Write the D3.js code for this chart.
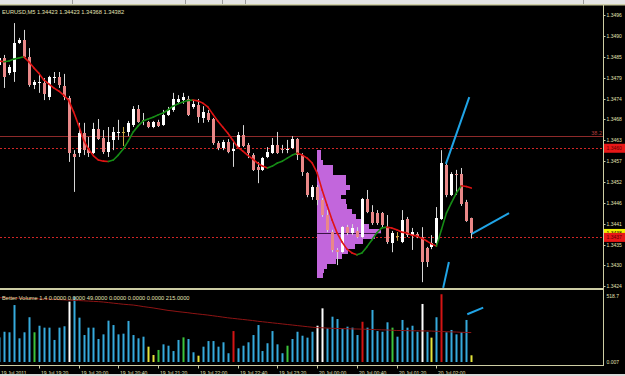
<!DOCTYPE html>
<html>
<head>
<meta charset="utf-8">
<title>EURUSD,M5</title>
<script src="https://cdn.jsdelivr.net/npm/d3@7"></script>
<style>
    html, body { margin: 0; padding: 0; background: #000; overflow: hidden; }
    svg { display: block; }
    text { font-family: "Liberation Sans", Arial, sans-serif; }
</style>
</head>
<body>
<svg id="chart" width="625" height="376"></svg>
<script>
// EURUSD M5, 19-20 Jul 2011. bar 0 is the one cut by the left edge
const candleOpen = [
    1.34826, 1.34844, 1.34804, 1.34807, 1.34884, 1.34891, 1.34847, 1.34773, 1.34778, 1.34778,
    1.34741, 1.34791, 1.34794, 1.34770, 1.34739, 1.34591, 1.34593, 1.34646, 1.34604, 1.34593,
    1.34657, 1.34633, 1.34596, 1.34628, 1.34646, 1.34649, 1.34649, 1.34667, 1.34710, 1.34681,
    1.34675, 1.34662, 1.34675, 1.34667, 1.34694, 1.34707, 1.34728, 1.34733, 1.34736, 1.34715,
    1.34720, 1.34686, 1.34699, 1.34683, 1.34620, 1.34607, 1.34622, 1.34599, 1.34609, 1.34641,
    1.34615, 1.34588, 1.34557, 1.34549, 1.34583, 1.34593, 1.34615, 1.34604, 1.34601, 1.34607,
    1.34630, 1.34588, 1.34541, 1.34477, 1.34504, 1.34470, 1.34430, 1.34385, 1.34338, 1.34332,
    1.34398, 1.34383, 1.34388, 1.34372, 1.34472, 1.34438, 1.34435, 1.34435, 1.34398, 1.34356,
    1.34375, 1.34359, 1.34419, 1.34377, 1.34380, 1.34372, 1.34343, 1.34346, 1.34356, 1.34419,
    1.34562, 1.34483, 1.34538, 1.34538, 1.34464, 1.34423
];
const candleHigh = [
    1.34852, 1.34852, 1.34826, 1.34936, 1.34897, 1.34918, 1.34870, 1.34786, 1.34799, 1.34791,
    1.34797, 1.34807, 1.34807, 1.34802, 1.34744, 1.34601, 1.34673, 1.34673, 1.34636, 1.34673,
    1.34683, 1.34654, 1.34662, 1.34662, 1.34681, 1.34662, 1.34678, 1.34717, 1.34720, 1.34699,
    1.34678, 1.34678, 1.34681, 1.34707, 1.34715, 1.34752, 1.34746, 1.34752, 1.34744, 1.34733,
    1.34736, 1.34717, 1.34707, 1.34686, 1.34625, 1.34628, 1.34630, 1.34622, 1.34649, 1.34667,
    1.34620, 1.34593, 1.34570, 1.34583, 1.34609, 1.34633, 1.34649, 1.34615, 1.34628, 1.34638,
    1.34633, 1.34593, 1.34543, 1.34509, 1.34509, 1.34475, 1.34443, 1.34391, 1.34343, 1.34401,
    1.34404, 1.34406, 1.34398, 1.34475, 1.34496, 1.34456, 1.34443, 1.34438, 1.34430, 1.34388,
    1.34385, 1.34443, 1.34425, 1.34396, 1.34385, 1.34398, 1.34346, 1.34377, 1.34451, 1.34601,
    1.34567, 1.34543, 1.34549, 1.34554, 1.34470, 1.34423
];
const candleLow = [
    1.34818, 1.34765, 1.34799, 1.34781, 1.34881, 1.34844, 1.34768, 1.34762, 1.34752, 1.34733,
    1.34733, 1.34778, 1.34765, 1.34733, 1.34570, 1.34491, 1.34583, 1.34588, 1.34583, 1.34591,
    1.34628, 1.34591, 1.34583, 1.34601, 1.34628, 1.34612, 1.34638, 1.34662, 1.34673, 1.34667,
    1.34659, 1.34659, 1.34662, 1.34665, 1.34691, 1.34702, 1.34723, 1.34723, 1.34691, 1.34710,
    1.34673, 1.34673, 1.34675, 1.34615, 1.34601, 1.34601, 1.34593, 1.34557, 1.34607, 1.34609,
    1.34580, 1.34546, 1.34514, 1.34546, 1.34580, 1.34591, 1.34591, 1.34593, 1.34593, 1.34604,
    1.34575, 1.34533, 1.34477, 1.34470, 1.34456, 1.34425, 1.34385, 1.34332, 1.34298, 1.34330,
    1.34377, 1.34377, 1.34369, 1.34369, 1.34435, 1.34404, 1.34404, 1.34398, 1.34354, 1.34332,
    1.34362, 1.34356, 1.34372, 1.34338, 1.34369, 1.34253, 1.34293, 1.34340, 1.34346, 1.34417,
    1.34477, 1.34480, 1.34483, 1.34454, 1.34412, 1.34368
];
const candleClose = [
    1.34844, 1.34794, 1.34820, 1.34884, 1.34891, 1.34847, 1.34773, 1.34781, 1.34781, 1.34749,
    1.34794, 1.34794, 1.34773, 1.34741, 1.34593, 1.34583, 1.34646, 1.34601, 1.34593, 1.34657,
    1.34630, 1.34596, 1.34622, 1.34649, 1.34649, 1.34649, 1.34673, 1.34710, 1.34675, 1.34678,
    1.34662, 1.34675, 1.34665, 1.34694, 1.34707, 1.34736, 1.34736, 1.34741, 1.34694, 1.34723,
    1.34688, 1.34702, 1.34681, 1.34620, 1.34607, 1.34622, 1.34596, 1.34604, 1.34641, 1.34612,
    1.34593, 1.34549, 1.34549, 1.34580, 1.34596, 1.34615, 1.34593, 1.34601, 1.34604, 1.34630,
    1.34588, 1.34543, 1.34483, 1.34504, 1.34470, 1.34430, 1.34391, 1.34338, 1.34332, 1.34398,
    1.34383, 1.34396, 1.34372, 1.34472, 1.34438, 1.34409, 1.34409, 1.34404, 1.34359, 1.34383,
    1.34375, 1.34417, 1.34377, 1.34385, 1.34372, 1.34306, 1.34306, 1.34356, 1.34422, 1.34567,
    1.34483, 1.34538, 1.34535, 1.34459, 1.34414, 1.34382
];
// two-colour moving average on the price
const maLine = [
    1.34836, 1.34834, 1.34836, 1.34841, 1.34844, 1.34847, 1.34834, 1.34818, 1.34804, 1.34786,
    1.34776, 1.34765, 1.34757, 1.34746, 1.34733, 1.34702, 1.34667, 1.34628, 1.34604, 1.34586,
    1.34575, 1.34572, 1.34571, 1.34575, 1.34588, 1.34604, 1.34625, 1.34649, 1.34665, 1.34678,
    1.34683, 1.34688, 1.34694, 1.34699, 1.34707, 1.34717, 1.34723, 1.34728, 1.34732, 1.34733,
    1.34731, 1.34725, 1.34715, 1.34696, 1.34678, 1.34662, 1.34646, 1.34628, 1.34609, 1.34599,
    1.34588, 1.34578, 1.34567, 1.34559, 1.34554, 1.34559, 1.34567, 1.34572, 1.34580, 1.34588,
    1.34593, 1.34588, 1.34580, 1.34567, 1.34541, 1.34496, 1.34456, 1.34417, 1.34383, 1.34359,
    1.34340, 1.34330, 1.34325, 1.34330, 1.34346, 1.34364, 1.34383, 1.34396, 1.34398, 1.34396,
    1.34391, 1.34385, 1.34383, 1.34377, 1.34375, 1.34369, 1.34362, 1.34354, 1.34348, 1.34391,
    1.34435, 1.34462, 1.34488, 1.34507, 1.34505, 1.34501
];
const volumes = [
    180, 221, 217, 416, 173, 217, 327, 217, 265, 251,
    251, 161, 251, 261, 441, 477, 324, 197, 251, 251,
    168, 202, 302, 270, 202, 207, 300, 197, 173, 185,
    112, 51, 88, 129, 119, 80, 161, 180, 168, 71,
    46, 112, 153, 153, 112, 144, 64, 226, 100, 119,
    144, 197, 270, 80, 137, 226, 129, 64, 119, 168,
    221, 192, 178, 221, 265, 392, 246, 331, 314, 241,
    258, 251, 197, 294, 251, 380, 226, 221, 290, 251,
    185, 307, 251, 265, 221, 424, 221, 178, 327, 495,
    217, 234, 202, 217, 307, 49
];
const volumeMA = [
    470, 469, 468, 467, 466, 465, 464, 463, 461, 460,
    459, 458, 456, 454, 452, 451, 449, 447, 445, 443,
    441, 438, 434, 430, 426, 422, 419, 416, 411, 405,
    400, 395, 389, 383, 377, 373, 368, 364, 360, 355,
    351, 347, 343, 338, 333, 328, 323, 319, 315, 311,
    307, 303, 298, 294, 290, 286, 282, 278, 274, 270,
    266, 262, 258, 254, 251, 250, 248, 246, 245, 244,
    243, 242, 241, 240, 239, 238, 236, 235, 234, 232,
    230, 230, 229, 228, 228, 227, 227, 226, 224, 223,
    221, 220, 219, 217, 216, 215
];
// Better Volume bar classes, all other bars are normal (blue)
const lowVolumeBars = [30, 31, 40, 87, 95];
const churnBars = [7, 32, 37, 58, 79];
const climaxUpBars = [47, 73, 89];
const climaxDownBars = [14, 64, 65, 85];

// volume profile, bin edges (price) and volume per bin
const profileBar = 64;
const profileLevels = [
    1.34601, 1.34588, 1.34575, 1.34562, 1.34549, 1.34536, 1.34523, 1.34510, 1.34497,
    1.34484, 1.34471, 1.34458, 1.34445, 1.34432, 1.34419, 1.34406, 1.34393, 1.34380,
    1.34367, 1.34354, 1.34341, 1.34328, 1.34315, 1.34302, 1.34289, 1.34276, 1.34263
];
const profileVolumes = [8, 8, 12, 32, 32, 58, 58, 66, 58, 48, 58, 60, 70, 78, 90, 104, 128, 116, 92, 76, 62, 50, 38, 20, 14, 12];

// horizontal objects
const fibLevels = [1.34638];
const fibLabels = ["38.2"];
const alertLevels = [1.34606, 1.34371];
const alertLabels = ["1.3460", "1.3437"];
const bidPrice = 1.34382;
const bidLabel = "1.3438";

// trend lines as [bar, value]
const trendLines = [
    [[89.9, 1.34565], [94.6, 1.34741]],
    [[95.1, 1.34380], [102.6, 1.34435]],
    [[90.5, 1.34306], [89.35, 1.34238]]
];
const volumeTrend = [[94.2, 349], [97.4, 397]];

const priceTicks = [1.34957, 1.34902, 1.34847, 1.34792, 1.34737, 1.34682, 1.34627, 1.34572, 1.34517, 1.34462, 1.34407, 1.34352, 1.34297, 1.34242];
const priceTickLabels = ["1.3496", "1.3490", "1.3485", "1.3479", "1.3474", "1.3468", "1.3463", "1.3457", "1.3452", "1.3446", "1.3441", "1.3435", "1.3430", "1.3424"];
const volumeTicks = [518.7, 0];
const volumeTickLabels = ["518.7", "0.007"];
const timeTickBars = [0, 8, 16, 24, 32, 40, 48, 56, 64, 72, 80, 88];
const timeTickLabels = ["19 Jul 2011", "19 Jul 19:20", "19 Jul 20:00", "19 Jul 20:40", "19 Jul 21:20", "19 Jul 22:00",
    "19 Jul 22:40", "19 Jul 23:20", "20 Jul 00:00", "20 Jul 00:40", "20 Jul 01:20", "20 Jul 02:00"];

const mainTitle = "EURUSD,M5  1.34423 1.34423 1.34368 1.34382";
const volumeTitle = "Better Volume 1.4 0.0000 0.0000 49.0000 0.0000 0.0000 0.0000 215.0000";


function Config() {
    this.w = 625;
    this.h = 376;
    this.right = 603;
    this.main = {top: 6, bottom: 288};
    this.vol = {top: 291, bottom: 365};
    this.x = d3.scaleLinear().domain([0, 121.5]).range([-1, this.right]);
    this.y = d3.scaleLinear().domain([1.34235, 1.34981]).range([289, 6]);
    this.yVol = d3.scaleLinear().domain([0, 518.7]).range([362, 291]);
    this.profileW = d3.scaleLinear().domain([0, 136]).range([0, 68]);
    this.frame = "#cdcda4";
    this.text = "#e2e2b4";
    this.font = 5;
}

const cfg = new Config();
const svg = d3.select("#chart");
const px = i => Math.round(cfg.x(i));
const py = v => Math.round(cfg.y(v));
const idx = d3.range(candleOpen.length);

svg.append("rect").attr("width", cfg.w).attr("height", cfg.h).attr("fill", "#000");

// terminal tab strip above the chart
svg.append("rect").attr("width", cfg.w).attr("height", 4).attr("fill", "#e4e4e4");
svg.selectAll(".tab").data([72, 185, 222, 245, 583]).join("line")
    .attr("x1", d => d + 0.5).attr("x2", d => d + 0.5)
    .attr("y1", 0).attr("y2", 4)
    .attr("stroke", "#9a9a9a");

const defs = svg.append("defs");
defs.append("clipPath").attr("id", "clip-main").append("rect")
    .attr("x", 0).attr("y", cfg.main.top)
    .attr("width", cfg.right).attr("height", cfg.main.bottom - cfg.main.top);
defs.append("clipPath").attr("id", "clip-vol").append("rect")
    .attr("x", 0).attr("y", cfg.vol.top)
    .attr("width", cfg.right).attr("height", cfg.vol.bottom - cfg.vol.top);
// the bid box is mostly hidden under the alert box below it
defs.append("clipPath").attr("id", "clip-bid").append("rect")
    .attr("x", cfg.right).attr("y", cfg.y(bidPrice) - 4.5)
    .attr("width", cfg.w - cfg.right).attr("height", cfg.y(alertLevels[1]) - cfg.y(bidPrice));

const main = svg.append("g").attr("clip-path", "url(#clip-main)");

// fibo level and alert lines
main.selectAll(".fib").data(fibLevels).join("line")
    .attr("x1", 0).attr("x2", cfg.right)
    .attr("y1", d => py(d) + 0.5).attr("y2", d => py(d) + 0.5)
    .attr("stroke", "#8e2a2a");
main.selectAll(".fib-label").data(fibLevels).join("text")
    .attr("x", cfg.right - 1).attr("y", d => py(d) - 1.5)
    .attr("text-anchor", "end")
    .attr("font-size", 5.5)
    .attr("fill", "#b23c3c")
    .text((d, i) => fibLabels[i]);
main.selectAll(".alert").data(alertLevels).join("line")
    .attr("x1", 0).attr("x2", cfg.right)
    .attr("y1", d => py(d) + 0.5).attr("y2", d => py(d) + 0.5)
    .attr("stroke", "#d02626")
    .attr("stroke-dasharray", "2,2");

// volume profile
const profX = cfg.x(profileBar);
main.selectAll(".vp").data(profileVolumes).join("rect")
    .attr("x", Math.round(profX))
    .attr("y", (d, i) => py(profileLevels[i]))
    .attr("height", (d, i) => py(profileLevels[i + 1]) - py(profileLevels[i]))
    .attr("width", d => Math.round(cfg.profileW(d)))
    .attr("fill", "#c266dc")
    .attr("shape-rendering", "crispEdges");
const poc = profileVolumes.indexOf(d3.max(profileVolumes));
main.append("line")
    .attr("x1", profX).attr("x2", profX + cfg.profileW(profileVolumes[poc]))
    .attr("y1", py(profileLevels[poc + 1]) - 0.5).attr("y2", py(profileLevels[poc + 1]) - 0.5)
    .attr("stroke", "#3a1446");

// candles
main.selectAll(".wick").data(idx).join("line")
    .attr("x1", i => px(i) + 0.5).attr("x2", i => px(i) + 0.5)
    .attr("y1", i => cfg.y(candleHigh[i])).attr("y2", i => cfg.y(candleLow[i]))
    .attr("stroke", i => candleOpen[i] === candleClose[i] ? "#c9a945" : "#d6d6d6");
main.selectAll(".body").data(idx).join("rect")
    .attr("x", i => px(i) - 1)
    .attr("width", 3)
    .attr("y", i => py(Math.max(candleOpen[i], candleClose[i])))
    .attr("height", i => Math.max(1, py(Math.min(candleOpen[i], candleClose[i])) - py(Math.max(candleOpen[i], candleClose[i]))))
    .attr("fill", i => candleOpen[i] === candleClose[i] ? "#c9a945"
        : candleClose[i] > candleOpen[i] ? "#ffffff" : "#e98888")
    .attr("shape-rendering", "crispEdges");

// moving average, green while rising, red while falling
main.selectAll(".ma").data(d3.pairs(idx)).join("line")
    .attr("x1", d => cfg.x(d[0])).attr("y1", d => cfg.y(maLine[d[0]]))
    .attr("x2", d => cfg.x(d[1])).attr("y2", d => cfg.y(maLine[d[1]]))
    .attr("stroke", d => maLine[d[1]] >= maLine[d[0]] ? "#168c16" : "#e01414")
    .attr("stroke-width", 1.6)
    .attr("stroke-linecap", "round");

// trend lines
svg.selectAll(".trend").data(trendLines).join("line")
    .attr("x1", d => cfg.x(d[0][0])).attr("y1", d => cfg.y(d[0][1]))
    .attr("x2", d => cfg.x(d[1][0])).attr("y2", d => cfg.y(d[1][1]))
    .attr("stroke", "#20a4e6")
    .attr("stroke-width", 2);

// price axis
svg.selectAll(".ptick").data(priceTicks).join("line")
    .attr("x1", cfg.right).attr("x2", cfg.right + 2.5)
    .attr("y1", d => py(d) + 0.5).attr("y2", d => py(d) + 0.5)
    .attr("stroke", cfg.frame);
svg.selectAll(".plabel").data(priceTicks).join("text")
    .attr("x", cfg.right + 3.5).attr("y", d => py(d) + 0.5)
    .attr("dy", "0.36em")
    .attr("font-size", cfg.font)
    .attr("fill", cfg.text)
    .text((d, i) => priceTickLabels[i]);

// current bid box, then the alert price boxes on top
const bid = svg.append("g").attr("clip-path", "url(#clip-bid)");
bid.append("rect")
    .attr("x", cfg.right + 1).attr("y", cfg.y(bidPrice) - 4.5)
    .attr("width", cfg.w - cfg.right - 1).attr("height", 9)
    .attr("fill", "#f0f000");
bid.append("text")
    .attr("x", cfg.right + 3.5).attr("y", cfg.y(bidPrice))
    .attr("dy", "0.36em")
    .attr("font-size", cfg.font)
    .attr("fill", "#000")
    .text(bidLabel);

const box = svg.selectAll(".pbox").data(alertLevels).join("g");
box.append("rect")
    .attr("x", cfg.right + 1).attr("y", d => cfg.y(d) - 4.5)
    .attr("width", cfg.w - cfg.right - 1).attr("height", 9)
    .attr("fill", "#e81818");
box.append("text")
    .attr("x", cfg.right + 3.5).attr("y", d => cfg.y(d))
    .attr("dy", "0.36em")
    .attr("font-size", cfg.font)
    .attr("fill", "#5c0000")
    .text((d, i) => alertLabels[i]);

// volume window
const vol = svg.append("g").attr("clip-path", "url(#clip-vol)");
const volColor = i => lowVolumeBars.includes(i) ? "#e4e43c"
    : churnBars.includes(i) ? "#3cc43c"
    : climaxUpBars.includes(i) ? "#d41414"
    : climaxDownBars.includes(i) ? "#ffffff"
    : "#36aadc";
vol.selectAll(".vbar").data(idx).join("rect")
    .attr("x", i => px(i) - 0.5)
    .attr("width", 2)
    .attr("y", i => cfg.yVol(volumes[i]))
    .attr("height", i => cfg.yVol(0) - cfg.yVol(volumes[i]))
    .attr("fill", volColor);
vol.append("path")
    .datum(idx)
    .attr("fill", "none")
    .attr("stroke", "#8e1414")
    .attr("stroke-width", 1)
    .attr("d", d3.line().x(i => cfg.x(i)).y(i => cfg.yVol(volumeMA[i])));
vol.append("line")
    .attr("x1", cfg.x(volumeTrend[0][0])).attr("y1", cfg.yVol(volumeTrend[0][1]))
    .attr("x2", cfg.x(volumeTrend[1][0])).attr("y2", cfg.yVol(volumeTrend[1][1]))
    .attr("stroke", "#20a4e6")
    .attr("stroke-width", 2);

svg.selectAll(".vlabel").data(volumeTicks).join("text")
    .attr("x", cfg.right + 3.5)
    .attr("y", d => d > 0 ? cfg.yVol(d) + 5 : cfg.yVol(d))
    .attr("dy", "0.36em")
    .attr("font-size", cfg.font)
    .attr("fill", cfg.text)
    .text((d, i) => volumeTickLabels[i]);

// frames
svg.append("rect").attr("x", 0).attr("y", 4).attr("width", cfg.w).attr("height", 1.5).attr("fill", cfg.frame);
svg.append("rect").attr("x", 0).attr("y", cfg.main.bottom).attr("width", cfg.right + 1).attr("height", 2).attr("fill", cfg.frame);
svg.append("line")
    .attr("x1", cfg.right + 0.5).attr("x2", cfg.right + 0.5)
    .attr("y1", 4).attr("y2", cfg.vol.bottom + 1)
    .attr("stroke", cfg.frame);
svg.append("line")
    .attr("x1", 0).attr("x2", cfg.right + 1)
    .attr("y1", cfg.vol.bottom + 0.5).attr("y2", cfg.vol.bottom + 0.5)
    .attr("stroke", cfg.frame);

// window titles
svg.append("text")
    .attr("x", 2).attr("y", 13.5)
    .attr("font-size", 5.7)
    .attr("fill", cfg.text)
    .text(mainTitle);
svg.append("text")
    .attr("x", 2).attr("y", 299.5)
    .attr("font-size", 5.7)
    .attr("fill", cfg.text)
    .text(volumeTitle);

// time axis
svg.selectAll(".ttick").data(timeTickBars.filter(b => b > 0)).join("line")
    .attr("x1", b => px(b) + 0.5).attr("x2", b => px(b) + 0.5)
    .attr("y1", cfg.vol.bottom).attr("y2", cfg.vol.bottom + 3.5)
    .attr("stroke", cfg.frame);
svg.selectAll(".tlabel").data(timeTickBars).join("text")
    .attr("x", b => b > 0 ? px(b) + 2 : 1)
    .attr("y", 375)
    .attr("font-size", cfg.font)
    .attr("fill", cfg.text)
    .text((b, i) => timeTickLabels[i]);
svg.append("rect").attr("x", 0).attr("y", 374).attr("width", cfg.w).attr("height", 2).attr("fill", "#d8d8d8");
</script>
</body>
</html>
